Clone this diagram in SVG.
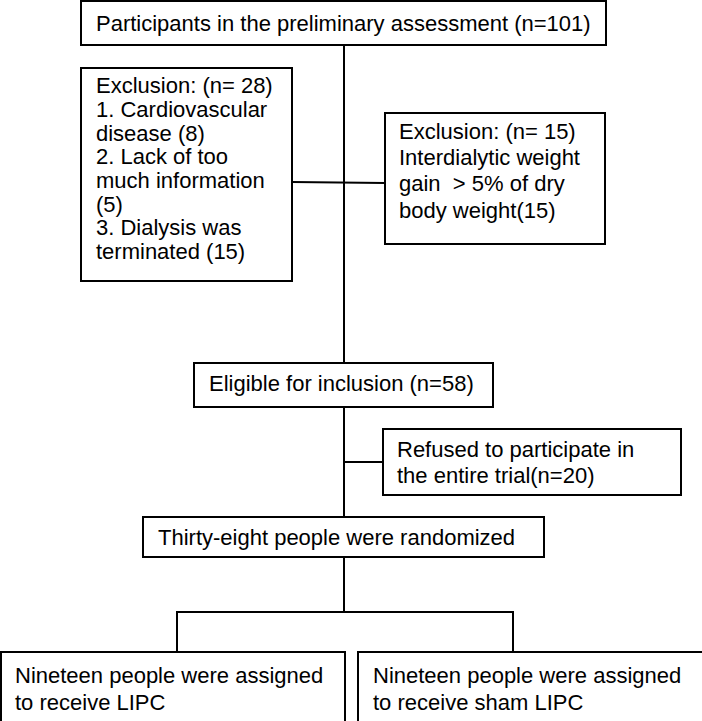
<svg xmlns="http://www.w3.org/2000/svg" width="702" height="721" viewBox="0 0 702 721">
<style>
rect{fill:#fff;stroke:#000;stroke-width:2}
text{font-family:"Liberation Sans",Arial,sans-serif;font-size:22px;fill:#000;white-space:pre}
.c line,.c polyline{stroke:#000;stroke-width:2;fill:none}
</style>
<rect x="0" y="0" width="702" height="721" style="stroke:none"/>
<g class="c" id="connectors">
<line x1="344" y1="45" x2="344" y2="363"/>
<line x1="292" y1="182" x2="385" y2="183"/>
<line x1="344" y1="407" x2="344" y2="517"/>
<line x1="344" y1="462" x2="383" y2="462"/>
<line x1="344" y1="557" x2="344" y2="612"/>
<polyline points="177,652 177,612 513,612 513,652"/>
</g>
<g id="n1"><rect x="81" y="1" width="525" height="44"/>
<text x="96" y="31">Participants in the preliminary assessment (n=101)</text></g>
<g id="n2"><rect x="81" y="68" width="211" height="213"/>
<text x="96" y="93">Exclusion: (n= 28)</text>
<text x="96" y="117">1. Cardiovascular</text>
<text x="96" y="141">disease (8)</text>
<text x="96" y="164">2. Lack of too</text>
<text x="96" y="188">much information</text>
<text x="96" y="212">(5)</text>
<text x="96" y="235">3. Dialysis was</text>
<text x="96" y="259">terminated (15)</text></g>
<g id="n3"><rect x="385" y="113" width="220" height="131"/>
<text x="399" y="139">Exclusion: (n= 15)</text>
<text x="399" y="165">Interdialytic weight</text>
<text x="399" y="191">gain  &gt; 5% of dry</text>
<text x="399" y="218">body weight(15)</text></g>
<g id="n4"><rect x="194" y="363" width="299" height="44"/>
<text x="209" y="391">Eligible for inclusion (n=58)</text></g>
<g id="n5"><rect x="383" y="429" width="298" height="66"/>
<text x="397" y="457">Refused to participate in</text>
<text x="397" y="483">the entire trial(n=20)</text></g>
<g id="n6"><rect x="143" y="517" width="401" height="40"/>
<text x="158" y="545">Thirty-eight people were randomized</text></g>
<g id="n7"><rect x="1" y="652" width="344" height="75"/>
<text x="15" y="683">Nineteen people were assigned</text>
<text x="15" y="710">to receive LIPC</text></g>
<g id="n8"><rect x="358" y="652" width="350" height="75"/>
<text x="373" y="683">Nineteen people were assigned</text>
<text x="373" y="710">to receive sham LIPC</text></g>
</svg>
